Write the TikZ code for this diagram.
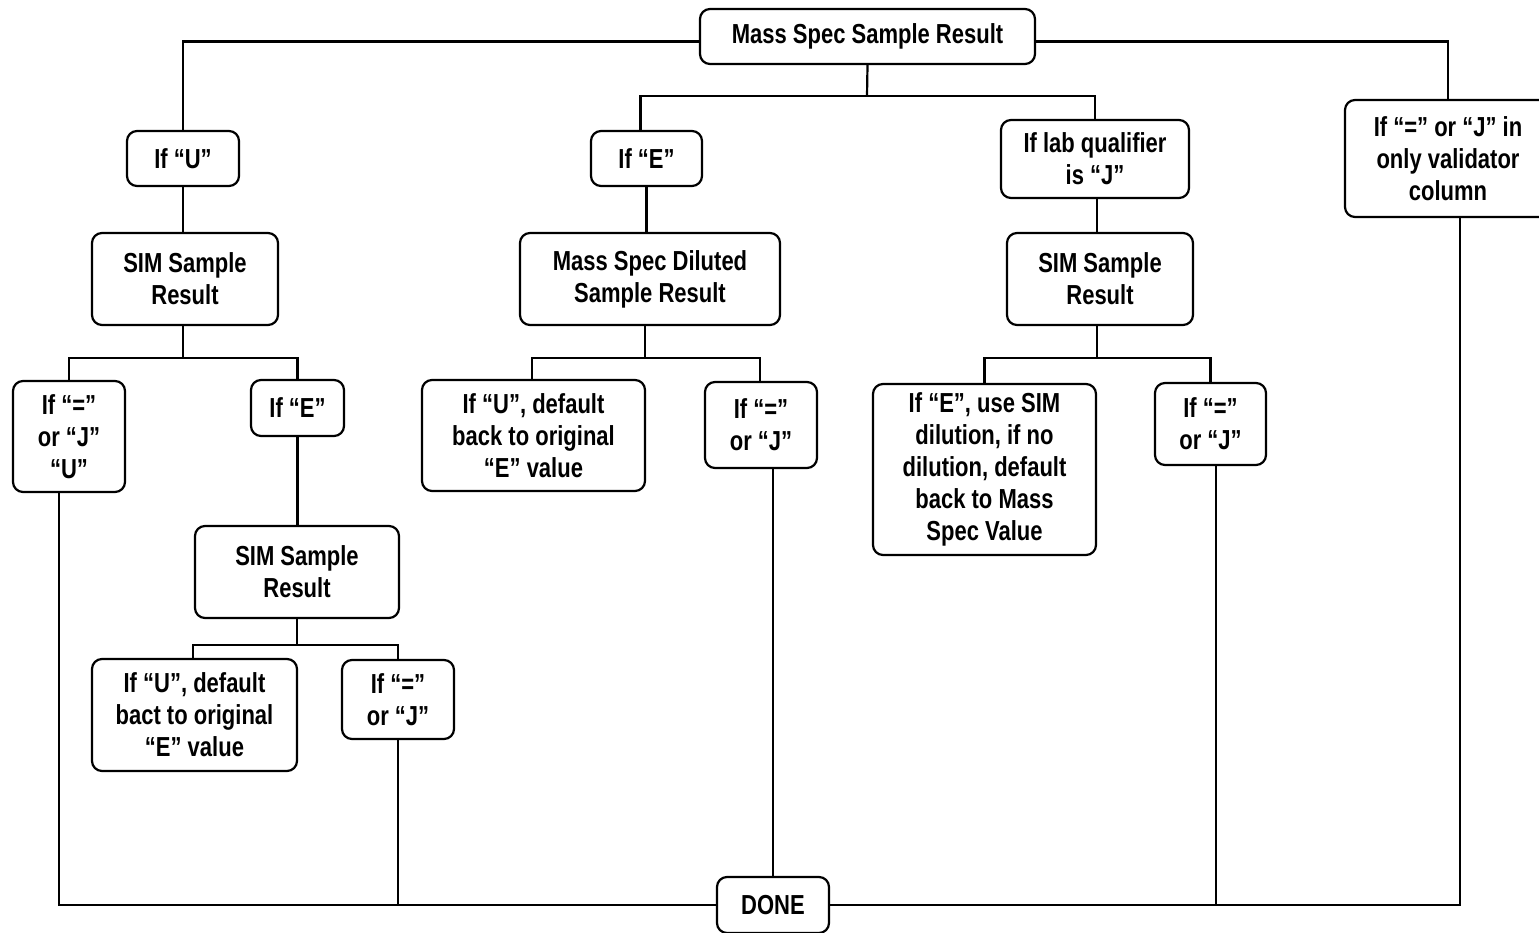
\documentclass[tikz,border=0pt]{standalone}
\usepackage{fontspec}
\setmainfont[FakeStretch=0.80]{Liberation Sans}
\begin{document}
\begin{tikzpicture}[x=1pt,y=-1pt,
  box/.style={draw, line width=2.2pt, rounded corners=10pt, align=center, inner sep=0pt,
    font=\bfseries\fontsize{27.5}{32}\selectfont},
  conn/.style={line width=2.2pt}]
\useasboundingbox (0,0) rectangle (1539,932);
\node[box, minimum width=335pt, minimum height=55pt] (top) at (867.5,36.5) {Mass Spec Sample Result};
\node[box, minimum width=112pt, minimum height=55pt] (U) at (183,158.5) {If “U”};
\node[box, minimum width=111pt, minimum height=55pt] (E) at (646.5,158.5) {If “E”};
\node[box, minimum width=188pt, minimum height=78pt] (labJ) at (1095,159) {If lab qualifier\\is “J”};
\node[box, minimum width=206pt, minimum height=117pt] (right) at (1448,158.5) {If “=” or “J” in\\only validator\\column};
\node[box, minimum width=186pt, minimum height=92pt] (SIM1) at (185,279) {SIM Sample\\Result};
\node[box, minimum width=260pt, minimum height=92pt] (MSD) at (650,279) {Mass Spec Diluted\\Sample Result};
\node[box, minimum width=186pt, minimum height=92pt] (SIM2) at (1100,279) {SIM Sample\\Result};
\node[box, minimum width=112pt, minimum height=111pt] (L1) at (69,436.5) {If “=”\\or “J”\\“U”};
\node[box, minimum width=93pt, minimum height=56pt] (L2) at (297.5,408) {If “E”};
\node[box, minimum width=223pt, minimum height=111pt] (L3) at (533.5,435.5) {If “U”, default\\back to original\\“E” value};
\node[box, minimum width=112pt, minimum height=86pt] (L4) at (761,425) {If “=”\\or “J”};
\node[box, minimum width=223pt, minimum height=171pt] (L5) at (984.5,469.5) {If “E”, use SIM\\dilution, if no\\dilution, default\\back to Mass\\Spec Value};
\node[box, minimum width=111pt, minimum height=82pt] (L6) at (1210.5,424) {If “=”\\or “J”};
\node[box, minimum width=204pt, minimum height=92pt] (SIM3) at (297,572) {SIM Sample\\Result};
\node[box, minimum width=205pt, minimum height=112pt] (L7) at (194.5,715) {If “U”, default\\bact to original\\“E” value};
\node[box, minimum width=112pt, minimum height=79pt] (L8) at (398,699.5) {If “=”\\or “J”};
\node[box, minimum width=112pt, minimum height=56pt] (DONE) at (773,905) {DONE};

\coordinate (j1) at (867,96);
\coordinate (j2) at (183,358);
\coordinate (j3) at (645,358);
\coordinate (j4) at (1097,358);
\coordinate (j5) at (297,645);

\draw[conn] ([yshift=-5pt]top.west) -| (U.north);
\draw[conn] ([yshift=-5pt]top.east) -| (right.north);
\draw[conn] (top.south) -- (j1);
\draw[conn] ([xshift=-6pt]E.north) |- (j1) -| (labJ.north);
\draw[conn] (U.south) -- (SIM1.north -| U.south);
\draw[conn] (E.south) -- (MSD.north -| E.south);
\draw[conn] ([xshift=2pt]labJ.south) -- (SIM2.north -| j4);
\draw[conn] (SIM1.south -| j2) -- (j2);
\draw[conn] (L1.north) |- (j2) -| (L2.north);
\draw[conn] (L2.south) -- (SIM3.north -| L2.south);
\draw[conn] (MSD.south -| j3) -- (j3);
\draw[conn] ([xshift=-1.5pt]L3.north) |- (j3) -| ([xshift=-1pt]L4.north);
\draw[conn] (SIM2.south -| j4) -- (j4);
\draw[conn] (L5.north) |- (j4) -| (L6.north);
\draw[conn] (SIM3.south) -- (j5);
\draw[conn] ([xshift=-1.5pt]L7.north) |- (j5) -| (L8.north);
\draw[conn] ([xshift=-10pt]L1.south) |- (DONE.west);
\draw[conn] (L8.south) -- (L8.south |- DONE.west);
\draw[conn] (DONE.north) -- (DONE.north |- L4.south);
\draw[conn] (DONE.east) -| ([xshift=12pt]right.south);
\draw[conn] ([xshift=5.5pt]L6.south) -- ([xshift=5.5pt]L6.south |- DONE.east);
\end{tikzpicture}
\end{document}
